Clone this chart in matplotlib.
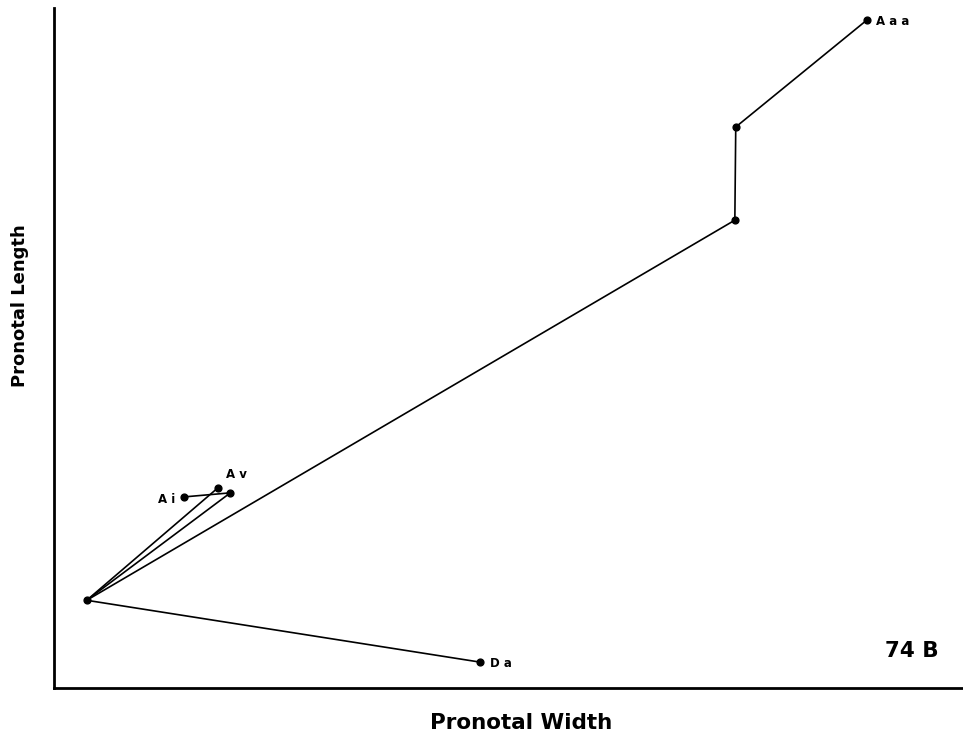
import matplotlib.pyplot as plt

# Node positions (arbitrary units of pronotal width / length)
node_names = ["hub", "Ai", "Av", "n3", "Da", "p1", "p2", "Aaa"]
node_x = [3.6, 14.3, 18.0, 19.4, 46.9, 74.9, 75.0, 89.4]
node_y = [12.9, 28.1, 29.4, 28.7, 3.8, 68.8, 82.5, 98.2]

# Connections between nodes
edges = [("Ai", "n3"), ("hub", "Av"), ("hub", "n3"), ("hub", "p1"),
         ("p1", "p2"), ("p2", "Aaa"), ("hub", "Da")]

# Labelled tips: name, label text, offset in points, alignment
tip_labels = [("Ai", "A i", (-6, -2), "right", "center"),
              ("Av", "A v", (6, 5), "left", "bottom"),
              ("Aaa", "A a a", (7, -1), "left", "center"),
              ("Da", "D a", (7, -1), "left", "center")]

pos = {n: (x, y) for n, x, y in zip(node_names, node_x, node_y)}

fig = plt.figure(figsize=(9.63, 7.39), dpi=100)
ax = fig.add_axes([54 / 963, 51 / 739, 909 / 963, 680 / 739])
ax.set_xlim(0, 100)
ax.set_ylim(0, 100)

## Lines and points
for a, b in edges:
    ax.plot([pos[a][0], pos[b][0]], [pos[a][1], pos[b][1]],
            color="black", linewidth=1.2, zorder=1)
ax.scatter(node_x, node_y, s=24, color="black", zorder=2)

## Tip labels
for n, txt, off, ha, va in tip_labels:
    ax.annotate(txt, pos[n], xytext=off, textcoords="offset points",
                ha=ha, va=va, fontsize=8.5, fontweight="bold")

ax.text(912 / 963, 1 - 651 / 739, "74 B", transform=fig.transFigure,
        ha="center", va="center", fontsize=15.5, fontweight="bold")

## Axes styling
for side in ("top", "right"):
    ax.spines[side].set_visible(False)
for side in ("left", "bottom"):
    ax.spines[side].set_linewidth(2)
ax.set_xticks([])
ax.set_yticks([])

## Axis titles
fig.text(521 / 963, 1 - 723 / 739, "Pronotal Width", ha="center",
         va="center", fontsize=15.5, fontweight="bold")
fig.text(20 / 963, 1 - 306 / 739, "Pronotal Length", ha="center",
         va="center", rotation=90, fontsize=13, fontweight="bold")

fig.savefig("out.png", dpi=100)
